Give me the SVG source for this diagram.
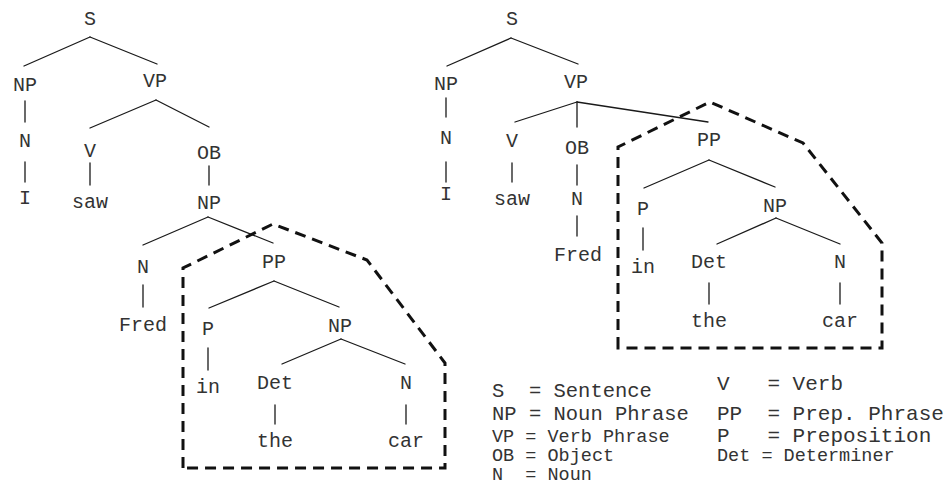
<svg xmlns="http://www.w3.org/2000/svg" width="948" height="486" viewBox="0 0 948 486">
  <style>
    text { font-family: "Liberation Mono", "Courier New", monospace; fill: #333; }
    .lbl { font-size: 20px; text-anchor: middle; }
    .edge { stroke: #1a1a1a; stroke-width: 1.3; fill: none; stroke-linecap: round; }
    .hull { stroke: #111; stroke-width: 3; fill: none; stroke-dasharray: 11 7; }
    .key text { white-space: pre; }
    .lg1 { font-size: 20.5px; }
    .lg2 { font-size: 18.5px; }
    .lg3 { font-size: 21px; }
  </style>
  <rect width="948" height="486" fill="#fff"/>

  <!-- tree edges -->
  <g id="connectors">
    <!-- left parse: PP attached to the object NP -->
    <line class="edge" x1="90" y1="37" x2="24" y2="66"/>
    <line class="edge" x1="90" y1="37" x2="157" y2="64"/>
    <line class="edge" x1="25" y1="101" x2="25" y2="122"/>
    <line class="edge" x1="25" y1="162" x2="25" y2="182"/>
    <line class="edge" x1="156" y1="100" x2="90" y2="128"/>
    <line class="edge" x1="156" y1="100" x2="209" y2="127"/>
    <line class="edge" x1="90" y1="163" x2="90" y2="185"/>
    <line class="edge" x1="209" y1="166" x2="209" y2="185"/>
    <line class="edge" x1="208" y1="217" x2="143" y2="245"/>
    <line class="edge" x1="208" y1="217" x2="273" y2="243"/>
    <line class="edge" x1="143" y1="285" x2="143" y2="307"/>
    <line class="edge" x1="274" y1="281" x2="209" y2="308"/>
    <line class="edge" x1="274" y1="281" x2="339" y2="307"/>
    <line class="edge" x1="208" y1="348" x2="208" y2="370"/>
    <line class="edge" x1="341" y1="339" x2="282" y2="364"/>
    <line class="edge" x1="341" y1="339" x2="405" y2="364"/>
    <line class="edge" x1="275" y1="405" x2="275" y2="424"/>
    <line class="edge" x1="406" y1="405" x2="406" y2="424"/>
    <!-- right parse: PP attached to the VP -->
    <line class="edge" x1="511" y1="38" x2="447" y2="66"/>
    <line class="edge" x1="511" y1="38" x2="578" y2="64"/>
    <line class="edge" x1="446" y1="98" x2="446" y2="117"/>
    <line class="edge" x1="446" y1="162" x2="446" y2="182"/>
    <line class="edge" x1="577" y1="102" x2="515" y2="122"/>
    <line class="edge" x1="577" y1="102" x2="577" y2="127"/>
    <line class="edge" x1="577" y1="102" x2="708" y2="122"/>
    <line class="edge" x1="512" y1="163" x2="512" y2="182"/>
    <line class="edge" x1="577" y1="165" x2="577" y2="185"/>
    <line class="edge" x1="577" y1="216" x2="577" y2="236"/>
    <line class="edge" x1="709" y1="160" x2="644" y2="188"/>
    <line class="edge" x1="709" y1="160" x2="775" y2="187"/>
    <line class="edge" x1="643" y1="228" x2="643" y2="250"/>
    <line class="edge" x1="776" y1="218" x2="717" y2="244"/>
    <line class="edge" x1="776" y1="218" x2="840" y2="244"/>
    <line class="edge" x1="709" y1="283" x2="709" y2="304"/>
    <line class="edge" x1="840" y1="283" x2="840" y2="304"/>
  </g>

  <!-- dashed outlines around the PP subtrees -->
  <g id="pp-outlines">
    <path class="hull" d="M183,468 V268 L273,224 L367,260 L445,363 V468 Z"/>
    <path class="hull" d="M618,348 V147 L710,102 L803,143 L882,243 V348 Z"/>
  </g>

  <!-- left tree nodes -->
  <g id="l-S"><text class="lbl" x="90" y="25">S</text></g>
  <g id="l-NP1"><text class="lbl" x="25" y="91">NP</text></g>
  <g id="l-VP"><text class="lbl" x="155" y="87">VP</text></g>
  <g id="l-N1"><text class="lbl" x="25" y="147">N</text></g>
  <g id="l-I"><text class="lbl" x="25" y="204">I</text></g>
  <g id="l-V"><text class="lbl" x="90" y="157">V</text></g>
  <g id="l-OB"><text class="lbl" x="209" y="159">OB</text></g>
  <g id="l-saw"><text class="lbl" x="90" y="208">saw</text></g>
  <g id="l-NP2"><text class="lbl" x="209" y="209">NP</text></g>
  <g id="l-N2"><text class="lbl" x="143" y="273">N</text></g>
  <g id="l-PP"><text class="lbl" x="274" y="268">PP</text></g>
  <g id="l-Fred"><text class="lbl" x="143" y="331">Fred</text></g>
  <g id="l-P"><text class="lbl" x="208" y="335">P</text></g>
  <g id="l-NP3"><text class="lbl" x="340" y="332">NP</text></g>
  <g id="l-in"><text class="lbl" x="208" y="393">in</text></g>
  <g id="l-Det"><text class="lbl" x="275" y="389">Det</text></g>
  <g id="l-N3"><text class="lbl" x="406" y="389">N</text></g>
  <g id="l-the"><text class="lbl" x="275" y="447">the</text></g>
  <g id="l-car"><text class="lbl" x="406" y="447">car</text></g>

  <!-- right tree nodes -->
  <g id="r-S"><text class="lbl" x="512" y="25">S</text></g>
  <g id="r-NP1"><text class="lbl" x="446" y="90">NP</text></g>
  <g id="r-VP"><text class="lbl" x="576" y="88">VP</text></g>
  <g id="r-N1"><text class="lbl" x="446" y="144">N</text></g>
  <g id="r-I"><text class="lbl" x="446" y="200">I</text></g>
  <g id="r-V"><text class="lbl" x="512" y="147">V</text></g>
  <g id="r-OB"><text class="lbl" x="577" y="154">OB</text></g>
  <g id="r-saw"><text class="lbl" x="512" y="205">saw</text></g>
  <g id="r-N2"><text class="lbl" x="577" y="205">N</text></g>
  <g id="r-Fred"><text class="lbl" x="578" y="261">Fred</text></g>
  <g id="r-PP"><text class="lbl" x="709" y="146">PP</text></g>
  <g id="r-P"><text class="lbl" x="643" y="215">P</text></g>
  <g id="r-NP2"><text class="lbl" x="775" y="212">NP</text></g>
  <g id="r-in"><text class="lbl" x="643" y="273">in</text></g>
  <g id="r-Det"><text class="lbl" x="709" y="268">Det</text></g>
  <g id="r-N3"><text class="lbl" x="840" y="268">N</text></g>
  <g id="r-the"><text class="lbl" x="709" y="327">the</text></g>
  <g id="r-car"><text class="lbl" x="840" y="327">car</text></g>

  <!-- abbreviation key -->
  <g id="legend" class="key">
    <text class="lg1" x="492" y="397" xml:space="preserve">S  = Sentence</text>
    <text class="lg1" x="492" y="420" xml:space="preserve">NP = Noun Phrase</text>
    <text class="lg2" x="492" y="442" xml:space="preserve">VP = Verb Phrase</text>
    <text class="lg2" x="492" y="461" xml:space="preserve">OB = Object</text>
    <text class="lg2" x="492" y="480" xml:space="preserve">N  = Noun</text>
    <text class="lg3" x="717" y="390" xml:space="preserve">V   = Verb</text>
    <text class="lg3" x="717" y="420" xml:space="preserve">PP  = Prep. Phrase</text>
    <text class="lg3" x="717" y="442" xml:space="preserve">P   = Preposition</text>
    <text class="lg2" x="717" y="461" xml:space="preserve">Det = Determiner</text>
  </g>
</svg>
